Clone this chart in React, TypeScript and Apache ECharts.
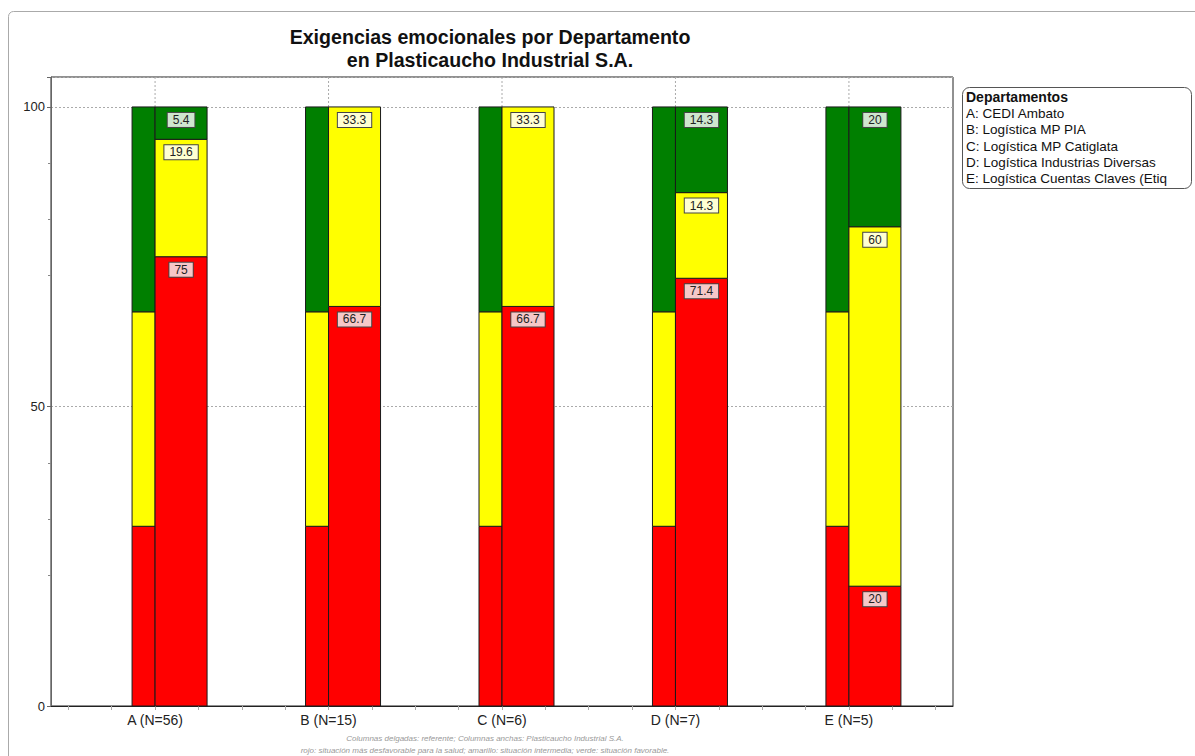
import React, { useEffect, useRef } from "react";
import * as echarts from "echarts";

const categories = ["A (N=56)", "B (N=15)", "C (N=6)", "D (N=7)", "E (N=5)"];
// Reference (thin columns)
const refRojo = [30, 30, 30, 30, 30];
const refAmarillo = [35.8, 35.8, 35.8, 35.8, 35.8];
const refVerde = [34.2, 34.2, 34.2, 34.2, 34.2];
// Company (wide columns)
const empRojo = [75, 66.7, 66.7, 71.4, 20];
const empAmarillo = [19.6, 33.3, 33.3, 14.3, 60];
const empVerde = [5.4, 0, 0, 14.3, 20];

const departamentos = [
  "A: CEDI Ambato",
  "B: Logística MP PIA",
  "C: Logística MP Catiglata",
  "D: Logística Industrias Diversas",
  "E: Logística Cuentas Claves (Etiq",
];
const yMajorTicks = [0, 50, 100];
const yMinorTicks = [21.9, 31.2, 40.6, 71.9, 81.2, 90.6];
const xMinorTicks = [0.5, 0.75, 1, 1.25, 1.5, 1.75, 2, 2.25, 2.5, 2.75, 3, 3.25, 3.5, 3.75, 4, 4.25, 4.5, 4.75, 5, 5.25, 5.5];

const FONT = "'Liberation Sans', Arial, sans-serif";
const ROJO = "#ff0000";
const AMARILLO = "#ffff00";
const VERDE = "#007f00";

function segSeries(
  name: string,
  starts: number[],
  values: number[],
  color: string,
  thin: boolean,
  labelBg: string | null
) {
  const data = categories.map((_, i) => [i + 1, starts[i], starts[i] + values[i], values[i]]);
  return {
    type: "custom",
    name,
    data,
    encode: { x: 0, y: [1, 2] },
    z: thin ? 2 : 3,
    renderItem: (params: any, api: any) => {
      const x = api.value(0);
      const y0 = api.value(1);
      const y1 = api.value(2);
      const v = api.value(3);
      if (!(v > 0)) return { type: "group", children: [] };
      const p0 = api.coord([x, y0]);
      const p1 = api.coord([x, y1]);
      const w = thin ? 23 : 52;
      const left = thin ? p0[0] - w : p0[0];
      const children: any[] = [
        {
          type: "rect",
          shape: { x: left, y: p1[1], width: w, height: p0[1] - p1[1] },
          style: { fill: color, stroke: "#1a1a1a", lineWidth: 1 },
        },
      ];
      if (labelBg) {
        children.push({
          type: "text",
          x: left + w / 2,
          y: p1[1] + 6,
          style: {
            text: String(v),
            fill: "#222",
            font: `12px ${FONT}`,
            align: "center",
            verticalAlign: "top",
            lineHeight: 12,
            backgroundColor: labelBg,
            borderColor: "#444",
            borderWidth: 1,
            padding: [1, 5, 1, 5],
          },
        });
      }
      return { type: "group", children };
    },
  };
}

export default function App() {
  const ref = useRef<HTMLDivElement>(null);
  useEffect(() => {
    document.body.style.margin = "0";
    document.body.style.background = "#fff";
    const chart = echarts.init(ref.current!, null, { renderer: "svg" });

    const refAmStart = refRojo;
    const refVeStart = refRojo.map((r, i) => r + refAmarillo[i]);
    const empAmStart = empRojo;
    const empVeStart = empRojo.map((r, i) => r + empAmarillo[i]);
    const zeros = categories.map(() => 0);

    const legendChildren: any[] = [
      {
        type: "rect",
        shape: { x: 962.5, y: 87.5, width: 229, height: 101, r: 7 },
        style: { fill: "#fff", stroke: "#555", lineWidth: 1 },
      },
      {
        type: "text",
        x: 966,
        y: 97,
        style: { text: "Departamentos", font: `bold 14px ${FONT}`, fill: "#111", verticalAlign: "middle" },
      },
      ...departamentos.map((d, i) => ({
        type: "text",
        x: 966,
        y: 113.5 + i * 16.3,
        style: { text: d, font: `13.5px ${FONT}`, fill: "#111", verticalAlign: "middle" },
      })),
    ];

    chart.setOption({
      animation: false,
      backgroundColor: "#fff",
      title: {
        text: "Exigencias emocionales por Departamento\nen Plasticaucho Industrial S.A.",
        left: 485,
        top: 20,
        textAlign: "center",
        textStyle: { fontSize: 19.6, fontWeight: "bold", fontFamily: FONT, lineHeight: 23, color: "#111" },
      },
      grid: {
        left: 51,
        top: 77,
        right: 242,
        bottom: 50,
        show: true,
        borderColor: "#222",
        borderWidth: 1,
        backgroundColor: "#fff",
      },
      xAxis: {
        type: "value",
        min: 0.4,
        max: 5.6,
        axisLine: { lineStyle: { color: "#222" } },
        axisTick: { show: true, customValues: xMinorTicks, length: 4, lineStyle: { color: "#aaa" } },
        axisLabel: {
          customValues: [1, 2, 3, 4, 5],
          formatter: (v: number) => categories[Math.round(v) - 1] ?? "",
          fontSize: 14,
          fontFamily: FONT,
          color: "#222",
          margin: 7,
        },
        splitLine: { show: false },
      },
      yAxis: [
        {
          type: "value",
          min: 0,
          max: 105,
          interval: 50,
          axisLine: { show: true, lineStyle: { color: "#666" } },
          axisTick: { show: true, length: 4, lineStyle: { color: "#666" } },
          axisLabel: {
            customValues: yMajorTicks,
            fontSize: 13,
            fontFamily: FONT,
            color: "#222",
            margin: 6,
          },
          splitLine: { show: true, lineStyle: { color: "#aaa", type: [2, 2] } },
        },
        {
          type: "value",
          min: 0,
          max: 105,
          position: "left",
          axisLine: { show: false },
          axisTick: { show: true, customValues: yMinorTicks, length: 3, lineStyle: { color: "#888" } },
          axisLabel: { show: false },
          splitLine: { show: false },
        },
      ],
      graphic: [
        {
          type: "rect",
          shape: { x: 8.5, y: 11.5, width: 1300, height: 900, r: 5 },
          style: { fill: "none", stroke: "#aaa", lineWidth: 1 },
          silent: true,
          z: -10,
        },
        { type: "group", children: legendChildren },
        {
          type: "text",
          x: 485,
          y: 738,
          style: {
            text: "Columnas delgadas: referente; Columnas anchas: Plasticaucho Industrial S.A.",
            font: `italic 8px ${FONT}`,
            fill: "#999",
            align: "center",
            verticalAlign: "middle",
          },
        },
        {
          type: "text",
          x: 485,
          y: 750,
          style: {
            text: "rojo: situación más desfavorable para la salud; amarillo: situación intermedia; verde: situación favorable.",
            font: `italic 8px ${FONT}`,
            fill: "#999",
            align: "center",
            verticalAlign: "middle",
          },
        },
      ],
      series: [
        {
          type: "custom",
          name: "grid-v",
          data: categories.map((_, i) => [i + 1, 0]),
          encode: { x: 0, y: 1 },
          z: 1,
          silent: true,
          renderItem: (params: any, api: any) => {
            const p = api.coord([api.value(0), 0]);
            const cs = params.coordSys;
            return {
              type: "line",
              shape: { x1: p[0], y1: cs.y, x2: p[0], y2: cs.y + cs.height },
              style: { stroke: "#aaa", lineWidth: 1, lineDash: [2, 2] },
            };
          },
        },
        segSeries("ref-rojo", zeros, refRojo, ROJO, true, null),
        segSeries("ref-amarillo", refAmStart, refAmarillo, AMARILLO, true, null),
        segSeries("ref-verde", refVeStart, refVerde, VERDE, true, null),
        segSeries("emp-rojo", zeros, empRojo, ROJO, false, "#f6c8c8"),
        segSeries("emp-amarillo", empAmStart, empAmarillo, AMARILLO, false, "#ffffd2"),
        segSeries("emp-verde", empVeStart, empVerde, VERDE, false, "#cfe6cf"),
      ],
    });
    return () => chart.dispose();
  }, []);
  return <div ref={ref} style={{ width: 1195, height: 756 }} />;
}
